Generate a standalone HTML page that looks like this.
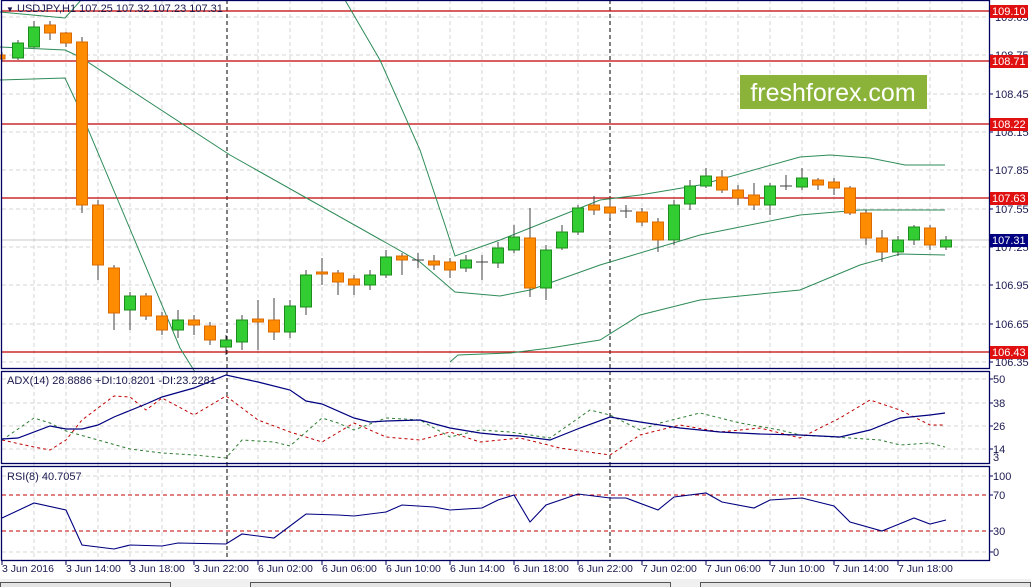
<!DOCTYPE html>
<html><head><meta charset="utf-8"><style>
body{margin:0;background:#fff;}
svg{display:block;font-family:"Liberation Sans",sans-serif;}
</style></head><body>
<svg width="1031" height="587" viewBox="0 0 1031 587" xmlns="http://www.w3.org/2000/svg">
<rect width="1031" height="587" fill="#fff"/>
<g stroke="#d4d4d4" stroke-dasharray="4,3" stroke-width="1">
<path d="M34 0V560M66 0V560M98 0V560M130 0V560M162 0V560M194 0V560M258 0V560M290 0V560M322 0V560M354 0V560M386 0V560M418 0V560M450 0V560M482 0V560M514 0V560M546 0V560M578 0V560M642 0V560M674 0V560M706 0V560M738 0V560M770 0V560M802 0V560M834 0V560M866 0V560M898 0V560M930 0V560M962 0V560"/>
<path d="M2 17H989M2 55H989M2 94H989M2 132H989M2 170H989M2 209H989M2 247H989M2 285H989M2 324H989M2 362H989"/>
<path d="M2 379H989M2 403H989M2 426H989M2 449H989"/>
<path d="M2 476H989M2 552H989"/>
</g>
<g stroke="#000" stroke-dasharray="4,3"><path d="M227 0V560M610 0V560"/></g>
<g stroke="#c00000" stroke-width="1.2"><path d="M2 11H989M2 61H989M2 124H989M2 198H989M2 352H989"/></g>
<path d="M2 240H989" stroke="#c8c8c8"/>
<rect x="740" y="75" width="187" height="34" fill="#8bb33a"/>
<text x="833" y="101" font-size="25" fill="#fff" text-anchor="middle">freshforex.com</text>
<g fill="none" stroke="#2e8b57" stroke-width="1">
<polyline points="0,12 65,18 90,-10"/>
<polyline points="345,0 380,60 420,150 445,225 455,256 500,240 600,200 640,195 700,185 800,157 830,155 870,158 905,165 945,165"/>
<polyline points="0,47 65,50 80,57 230,155 390,245 420,262 455,292 500,296 530,290 600,265 700,235 800,215 860,210 945,210"/>
<polyline points="0,80 65,78 80,110 180,348 195,372"/>
<polyline points="450,362 458,355 510,353 550,348 600,340 640,315 700,300 800,290 860,265 900,254 945,255"/>
</g>
<g stroke="#404040" stroke-width="1">
<path d="M2 52V62M18 40V60M34 21V48M50 21V40M66 32V47M82 37V213M98 200V280M114 265V330M130 292V330M146 293V320M162 312V335M178 310V338M194 315V335M210 322V345M226 335V355M242 315V350M258 300V350M274 298V340M290 300V338M306 270V315M322 258V285M338 270V295M354 275V295M370 270V290M386 250V278M402 253V275M418 253V268M434 255V270M450 258V278M466 255V272M482 255V280M498 242V268M514 225V253M530 208V297M546 245V300M562 225V250M578 205V235M594 196V215M610 200V218M626 205V218M642 208V226M658 218V252M674 200V245M690 180V210M706 168V188M722 170V193M738 185V205M754 183V210M770 183V215M786 175V190M802 168V190M818 178V190M834 178V195M850 186V215M866 210V245M882 230V262M898 236V256M914 225V245M930 225V250M946 236V250"/>
<path d="M412 260H424M620 211H632M780 186H792M476 262H488"/>
</g>
<g fill="#ff8c00" stroke="#d96a00">
<rect x="-3" y="55" width="8" height="4"/>
<rect x="44.5" y="25" width="11" height="8"/><rect x="60.5" y="33" width="11" height="10"/><rect x="76.5" y="42" width="11" height="163"/>
<rect x="92.5" y="205" width="11" height="60"/><rect x="108.5" y="268" width="11" height="45"/><rect x="140.5" y="296" width="11" height="20"/>
<rect x="156.5" y="316" width="11" height="14"/><rect x="188.5" y="320" width="11" height="5"/><rect x="204.5" y="326" width="11" height="14"/>
<rect x="252.5" y="319" width="11" height="3"/><rect x="268.5" y="320" width="11" height="12"/><rect x="316.5" y="272" width="11" height="2"/>
<rect x="332.5" y="273" width="11" height="9"/><rect x="348.5" y="279" width="11" height="6"/><rect x="396.5" y="256" width="11" height="4"/>
<rect x="428.5" y="261" width="11" height="4"/><rect x="444.5" y="262" width="11" height="8"/><rect x="524.5" y="238" width="11" height="50"/>
<rect x="588.5" y="205" width="11" height="5"/><rect x="604.5" y="207" width="11" height="6"/><rect x="636.5" y="212" width="11" height="10"/>
<rect x="652.5" y="222" width="11" height="18"/><rect x="716.5" y="177" width="11" height="13"/><rect x="732.5" y="190" width="11" height="8"/>
<rect x="748.5" y="195" width="11" height="10"/><rect x="812.5" y="180" width="11" height="5"/><rect x="828.5" y="182" width="11" height="6"/>
<rect x="844.5" y="188" width="11" height="25"/><rect x="860.5" y="213" width="11" height="25"/><rect x="876.5" y="238" width="11" height="14"/>
<rect x="924.5" y="228" width="11" height="17"/>
</g>
<g fill="#32cd32" stroke="#1e8c1e">
<rect x="12.5" y="43" width="11" height="15"/><rect x="28.5" y="27" width="11" height="20"/><rect x="124.5" y="296" width="11" height="14"/>
<rect x="172.5" y="320" width="11" height="10"/><rect x="220.5" y="340" width="11" height="7"/><rect x="236.5" y="320" width="11" height="22"/>
<rect x="284.5" y="306" width="11" height="26"/><rect x="300.5" y="275" width="11" height="32"/><rect x="364.5" y="275" width="11" height="10"/>
<rect x="380.5" y="257" width="11" height="18"/><rect x="460.5" y="260" width="11" height="8"/><rect x="492.5" y="248" width="11" height="15"/>
<rect x="508.5" y="237" width="11" height="13"/><rect x="540.5" y="250" width="11" height="38"/><rect x="556.5" y="232" width="11" height="16"/>
<rect x="572.5" y="208" width="11" height="24"/><rect x="668.5" y="205" width="11" height="35"/><rect x="684.5" y="186" width="11" height="18"/>
<rect x="700.5" y="176" width="11" height="10"/><rect x="764.5" y="186" width="11" height="19"/><rect x="796.5" y="178" width="11" height="9"/>
<rect x="892.5" y="240" width="11" height="12"/><rect x="908.5" y="227" width="11" height="13"/><rect x="940.5" y="240" width="11" height="7"/>
</g>
<g fill="none" stroke-width="1">
<polyline stroke="#c00000" stroke-dasharray="3,3" points="2,440 34,447 50,450 66,440 82,420 114,396 130,397 146,410 162,398 194,415 226,396 258,420 290,432 322,442 354,423 386,437 420,440 450,432 480,442 520,438 560,448 610,455 640,435 680,425 720,432 760,428 800,438 840,418 870,400 900,410 930,425 945,425"/>
<polyline stroke="#2e7d32" stroke-dasharray="3,3" points="2,440 34,418 50,423 66,431 98,440 130,449 162,453 194,455 226,458 242,440 274,442 290,446 322,418 338,423 354,430 386,418 420,420 450,437 480,430 510,432 550,438 590,410 610,415 640,430 660,423 700,413 740,423 780,430 800,435 850,438 880,440 900,445 930,443 945,447"/>
<polyline stroke="#000080" stroke-width="1.2" points="2,439 18,438 50,426 66,429 82,429 98,425 114,417 146,404 162,397 194,388 226,375 258,382 290,390 306,401 322,404 354,418 370,422 386,421 420,420 450,428 480,433 500,435 520,436 550,440 580,428 610,417 640,422 680,428 720,432 760,434 800,435 840,437 870,430 900,418 930,415 945,413"/>
</g>
<g stroke="#c00000" stroke-dasharray="4,3"><path d="M2 495H989M2 531H989"/></g>
<polyline fill="none" stroke="#000080" stroke-width="1.1" points="2,518 34,503 66,510 82,545 114,549 130,545 162,546 178,543 226,544 242,534 274,538 306,514 338,515 354,516 386,512 402,505 434,507 450,510 482,508 498,500 514,495 530,522 546,505 578,494 610,498 626,498 658,510 674,497 706,493 722,502 754,508 770,500 802,498 818,502 834,506 850,522 882,531 914,518 930,524 946,520"/>
<g fill="none" stroke="#000060" stroke-width="1.3">
<rect x="1.5" y="0.5" width="988" height="368"/>
<rect x="1.5" y="371.5" width="988" height="92"/>
<rect x="1.5" y="466.5" width="988" height="94"/>
</g>
<g font-size="11" fill="#1a1a50">
<text x="6" y="12" font-size="8">▼</text>
<text x="17" y="12">USDJPY,H1  107.25 107.32 107.23 107.31</text>
<text x="7" y="384">ADX(14) 28.8886 +DI:10.8201 -DI:23.2281</text>
<text x="7" y="480">RSI(8) 40.7057</text>
</g>
<g font-size="11" fill="#1a1a50">
<text x="995" y="21">109.05</text><text x="995" y="59">108.75</text><text x="995" y="98">108.45</text><text x="995" y="136">108.15</text>
<text x="995" y="174">107.85</text><text x="995" y="213">107.55</text><text x="995" y="251">107.25</text><text x="995" y="289">106.95</text>
<text x="995" y="328">106.65</text><text x="995" y="366">106.35</text>
<text x="993" y="383">50</text><text x="993" y="407">38</text><text x="993" y="430">26</text><text x="993" y="453">14</text><text x="993" y="461">3</text>
<text x="993" y="480">100</text><text x="993" y="499">70</text><text x="993" y="535">30</text><text x="993" y="556">0</text>
</g>
<g stroke="#000060"><path d="M989 17h4M989 55h4M989 94h4M989 132h4M989 170h4M989 209h4M989 247h4M989 285h4M989 324h4M989 362h4M989 379h4M989 403h4M989 426h4M989 449h4M989 476h4M989 495h4M989 531h4M989 552h4"/></g>
<g font-size="11" fill="#fff">
<rect x="990" y="5" width="38" height="13" fill="#e01010"/><text x="992" y="15">109.10</text>
<rect x="990" y="55" width="38" height="13" fill="#e01010"/><text x="992" y="65">108.71</text>
<rect x="990" y="118" width="38" height="13" fill="#e01010"/><text x="992" y="128">108.22</text>
<rect x="990" y="192" width="38" height="13" fill="#e01010"/><text x="992" y="202">107.63</text>
<rect x="990" y="234" width="38" height="13" fill="#000080"/><text x="992" y="244">107.31</text>
<rect x="990" y="346" width="38" height="13" fill="#e01010"/><text x="992" y="356">106.43</text>
</g>
<g stroke="#000060"><path d="M2 561v4M66 561v4M130 561v4M194 561v4M258 561v4M322 561v4M386 561v4M450 561v4M514 561v4M578 561v4M642 561v4M706 561v4M770 561v4M834 561v4M898 561v4"/></g>
<g font-size="10.5" fill="#1a1a50">
<text x="2" y="572">3 Jun 2016</text><text x="66" y="572">3 Jun 14:00</text><text x="130" y="572">3 Jun 18:00</text><text x="194" y="572">3 Jun 22:00</text>
<text x="258" y="572">6 Jun 02:00</text><text x="322" y="572">6 Jun 06:00</text><text x="386" y="572">6 Jun 10:00</text><text x="450" y="572">6 Jun 14:00</text>
<text x="514" y="572">6 Jun 18:00</text><text x="578" y="572">6 Jun 22:00</text><text x="642" y="572">7 Jun 02:00</text><text x="706" y="572">7 Jun 06:00</text>
<text x="770" y="572">7 Jun 10:00</text><text x="834" y="572">7 Jun 14:00</text><text x="898" y="572">7 Jun 18:00</text>
</g>
<rect x="0" y="579" width="1031" height="8" fill="#f0f0f0"/>
<g fill="#e4e4e4" stroke="#555"><rect x="0.5" y="582.5" width="170" height="6"/><rect x="250.5" y="582.5" width="420" height="6"/><rect x="700.5" y="582.5" width="330" height="6"/></g>
</svg>
</body></html>
